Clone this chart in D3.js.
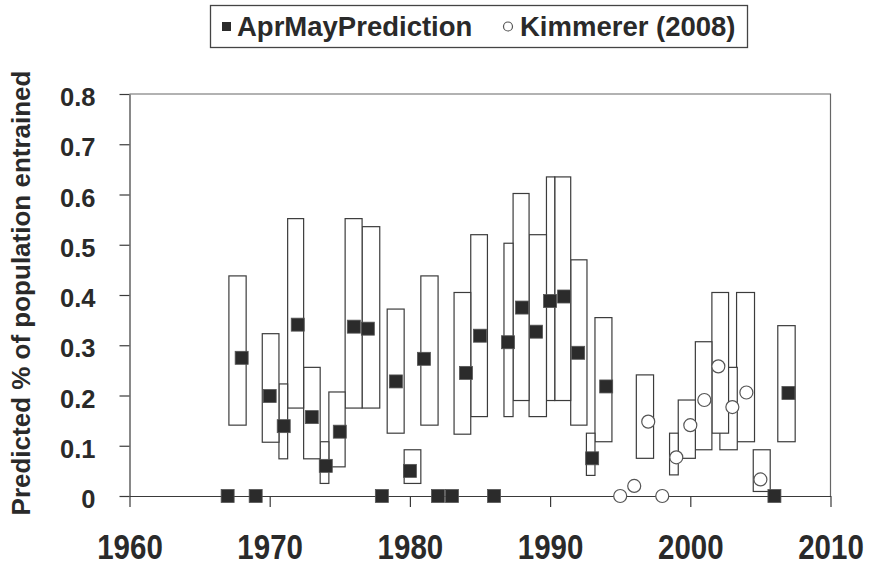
<!DOCTYPE html>
<html>
<head>
<meta charset="utf-8">
<script src="https://cdn.jsdelivr.net/npm/d3@7"></script>
<style>
  html, body { margin: 0; padding: 0; background: #fff; }
  svg { display: block; }
  text { font-family: "Liberation Sans", Arial, sans-serif; font-weight: bold; fill: #2a2a2a; }
</style>
</head>
<body>
<svg id="chart" width="871" height="567"></svg>
<script>
// ---- Data ----
// AprMay prediction (filled squares)
const predYears  = [1967, 1968, 1969, 1970, 1971, 1972, 1973, 1974, 1975, 1976, 1977, 1978, 1979, 1980, 1981, 1982, 1983, 1984, 1985, 1986, 1987, 1988, 1989, 1990, 1991, 1992, 1993, 1994, 2006, 2007];
const predValues = [0, 0.275, 0, 0.199, 0.139, 0.341, 0.157, 0.060, 0.128, 0.337, 0.333, 0, 0.228, 0.050, 0.273, 0, 0, 0.245, 0.319, 0, 0.306, 0.375, 0.327, 0.388, 0.397, 0.285, 0.075, 0.218, 0, 0.205];

// Kimmerer (2008) (open circles)
const kimYears  = [1995, 1996, 1997, 1998, 1999, 2000, 2001, 2002, 2003, 2004, 2005];
const kimValues = [0, 0.020, 0.148, 0, 0.077, 0.141, 0.191, 0.258, 0.177, 0.206, 0.033];

// Range boxes: year, low, high, and the span (in years) each box covers
const boxYears = [1968, 1970, 1971, 1972, 1973, 1974, 1975, 1976, 1977, 1979, 1980, 1981, 1984, 1985, 1987, 1988, 1989, 1990, 1991, 1992, 1993, 1994, 1997, 1999, 2000, 2001, 2002, 2003, 2004, 2005, 2007];
const boxLow   = [0.141, 0.107, 0.074, 0.175, 0.074, 0.025, 0.058, 0.175, 0.175, 0.125, 0.025, 0.141, 0.123, 0.158, 0.158, 0.190, 0.158, 0.190, 0.190, 0.141, 0.041, 0.108, 0.075, 0.042, 0.075, 0.092, 0.125, 0.092, 0.108, 0.009, 0.108];
const boxHigh  = [0.438, 0.323, 0.223, 0.552, 0.256, 0.108, 0.207, 0.552, 0.536, 0.372, 0.092, 0.438, 0.405, 0.520, 0.503, 0.602, 0.520, 0.635, 0.635, 0.470, 0.125, 0.355, 0.241, 0.125, 0.191, 0.307, 0.405, 0.256, 0.405, 0.092, 0.339];
const boxStart = [1967.09, 1969.47, 1970.66, 1971.28, 1972.42, 1973.60, 1974.22, 1975.38, 1976.59, 1978.38, 1979.59, 1980.78, 1983.15, 1984.34, 1986.71, 1987.36, 1988.50, 1989.74, 1990.33, 1991.47, 1992.59, 1993.20, 1996.15, 1998.52, 1999.14, 2000.36, 2001.54, 2002.11, 2003.30, 2004.49, 2006.24];
const boxEnd   = [1968.32, 1970.66, 1971.28, 1972.42, 1973.60, 1974.22, 1975.38, 1976.59, 1977.85, 1979.59, 1980.78, 1982.01, 1984.34, 1985.53, 1987.36, 1988.50, 1989.74, 1990.33, 1991.47, 1992.63, 1993.20, 1994.41, 1997.38, 1999.14, 2000.36, 2001.54, 2002.73, 2003.35, 2004.58, 2005.70, 2007.48];

// Axis ticks
const xTicks = [1960, 1970, 1980, 1990, 2000, 2010];
const yTicks = [0, 0.1, 0.2, 0.3, 0.4, 0.5, 0.6, 0.7, 0.8];
const yTickLabels = ["0", "0.1", "0.2", "0.3", "0.4", "0.5", "0.6", "0.7", "0.8"];
const legendLabels = ["AprMayPrediction", "Kimmerer (2008)"];
const yTitle = "Predicted % of population entrained";

// ---- Layout ----
const svg = d3.select("#chart");
const plot = { left: 129.5, right: 830.5, top: 94, bottom: 496 };
const x = d3.scaleLinear().domain([1960, 2010]).range([plot.left, plot.right]);
const y = d3.scaleLinear().domain([0, 0.8]).range([plot.bottom, plot.top]);

const axisColor = "#3a3a3a";

// Plot border (top and right)
svg.append("path")
  .attr("d", `M${plot.left},${plot.top}H${plot.right}V${plot.bottom}`)
  .attr("fill", "none").attr("stroke", "#666").attr("stroke-width", 1.2);

// Boxes (drawn later-years first so earlier boxes sit on top)
const boxes = boxYears.map((yr, i) => ({ yr, lo: boxLow[i], hi: boxHigh[i], s: boxStart[i], e: boxEnd[i] }));
svg.append("g").selectAll("rect")
  .data(boxes.slice().sort((a, b) => b.yr - a.yr))
  .join("rect")
  .attr("x", d => x(d.s))
  .attr("width", d => x(d.e) - x(d.s))
  .attr("y", d => y(d.hi))
  .attr("height", d => y(d.lo) - y(d.hi))
  .attr("fill", "#fff")
  .attr("stroke", "#3c3c3c")
  .attr("stroke-width", 1.2);

// X axis (at zero)
const xAxis = d3.axisBottom(x).tickValues(xTicks).tickSize(11).tickFormat("").tickSizeOuter(0);
const gx = svg.append("g").attr("transform", `translate(0,${plot.bottom})`).call(xAxis);
gx.select(".domain").attr("stroke", axisColor).attr("stroke-width", 1.2);
gx.selectAll(".tick line").attr("stroke", axisColor).attr("stroke-width", 1.2);

gx.selectAll(".tick").append("text")
  .attr("y", 63)
  .attr("text-anchor", "middle")
  .attr("font-size", 36)
  .attr("transform", "scale(0.82,1)")
  .attr("fill", "#2a2a2a")
  .text(d => d);

// Y axis
const yAxis = d3.axisLeft(y).tickValues(yTicks).tickSize(10).tickFormat("").tickSizeOuter(0);
const gy = svg.append("g").attr("transform", `translate(${plot.left},0)`).call(yAxis);
gy.select(".domain").attr("stroke", axisColor).attr("stroke-width", 1.2);
gy.selectAll(".tick line").attr("stroke", axisColor).attr("stroke-width", 1.2);
gy.selectAll(".tick").append("text")
  .attr("x", -34)
  .attr("dy", "0.46em")
  .attr("text-anchor", "end")
  .attr("font-size", 25.5)
  .attr("fill", "#2a2a2a")
  .text((d, i) => yTickLabels[i]);

// Y title
svg.append("text")
  .attr("transform", `translate(30,${(plot.top + plot.bottom) / 2 - 2}) rotate(-90)`)
  .attr("text-anchor", "middle")
  .attr("font-size", 26)
  .text(yTitle);

// Prediction squares
const sq = 13;
svg.append("g").selectAll("rect")
  .data(predYears.map((yr, i) => ({ yr, v: predValues[i] })))
  .join("rect")
  .attr("x", d => x(d.yr) - sq / 2)
  .attr("y", d => y(d.v) - sq / 2)
  .attr("width", sq).attr("height", sq)
  .attr("fill", "#2b2b2b")
  .attr("stroke", "#555").attr("stroke-width", 0.8);

// Kimmerer circles
svg.append("g").selectAll("circle")
  .data(kimYears.map((yr, i) => ({ yr, v: kimValues[i] })))
  .join("circle")
  .attr("cx", d => x(d.yr))
  .attr("cy", d => y(d.v))
  .attr("r", 6.5)
  .attr("fill", "#fff")
  .attr("stroke", "#555").attr("stroke-width", 1.2);

// Legend
const lg = svg.append("g");
lg.append("rect").attr("x", 210.5).attr("y", 5.5).attr("width", 537).attr("height", 42)
  .attr("fill", "#fff").attr("stroke", "#444").attr("stroke-width", 1.3);
lg.append("rect").attr("x", 222).attr("y", 22).attr("width", 9).attr("height", 9).attr("fill", "#2b2b2b");
lg.append("text").attr("x", 237).attr("y", 36).attr("font-size", 27.5).text(legendLabels[0]);
lg.append("circle").attr("cx", 508).attr("cy", 26.5).attr("r", 4.5).attr("fill", "#fff").attr("stroke", "#555").attr("stroke-width", 1.2);
lg.append("text").attr("x", 520).attr("y", 36).attr("font-size", 27.5).text(legendLabels[1]);
</script>
</body>
</html>
